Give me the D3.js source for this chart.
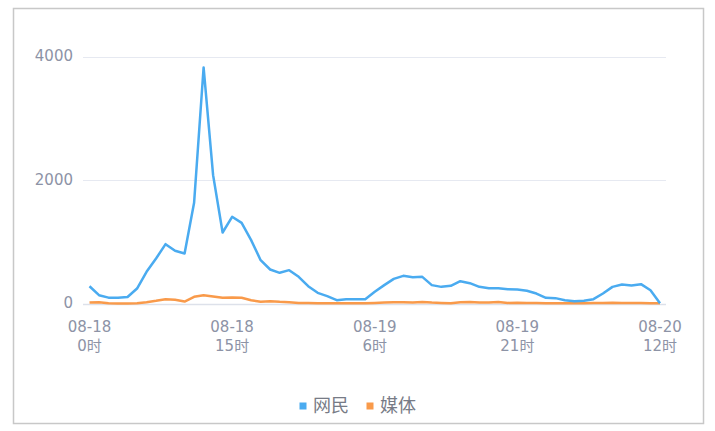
<!DOCTYPE html>
<html><head><meta charset="utf-8">
<script src="https://cdn.jsdelivr.net/npm/d3@7/dist/d3.min.js"></script>
<style>
html,body{margin:0;padding:0;background:#fff;}
svg text{font-family:"DejaVu Sans","Noto Sans CJK SC",sans-serif;}
svg text.cjk{font-family:"Noto Sans CJK SC","Noto Sans",sans-serif;}
</style></head>
<body>
<svg id="c" width="715" height="431"></svg>
<script>
// hourly, from 08-18 0时 to 08-20 12时 (61 points)
const hours = d3.range(0, 61);
const netizen = [280,135,95,95,105,243,514,730,963,855,811,1634,3830,2083,1152,1407,1309,1028,703,552,498,541,433,281,173,119,54,70,70,70,189,298,400,449,427,433,298,270,287,362,330,270,249,249,233,227,206,162,92,87,54,38,43,70,162,270,308,292,314,216,5];
const media = [16,22,5,0,0,5,22,43,70,60,32,108,135,113,92,97,92,54,27,38,27,20,10,10,5,5,5,5,5,5,10,15,20,20,15,25,15,10,5,20,25,15,15,25,10,12,10,8,5,5,5,5,5,8,10,12,10,10,8,5,5];
const yTicks = [0,2000,4000];
const xTickHours = [0,15,30,45,60];
const xTickLabels = [["08-18","0时"],["08-18","15时"],["08-19","6时"],["08-19","21时"],["08-20","12时"]];
const seriesNames = ["网民","媒体"];
const colors = ["#4aabf0","#f99a4a"];

const svg = d3.select("#c");
svg.append("rect").attr("x",13.5).attr("y",8.5).attr("width",690).attr("height",415)
  .attr("fill","none").attr("stroke","#c8c8c8").attr("stroke-width",1.5);

const x = d3.scaleLinear().domain([0,60]).range([89.5,660]);
const y = d3.scaleLinear().domain([0,4000]).range([303.5,57]);
const gridX0 = 83, gridX1 = 666;

// grid
svg.append("g").selectAll("line").data(yTicks).join("line")
  .attr("x1",gridX0).attr("x2",gridX1)
  .attr("y1",d=>Math.round(y(d))+0.5).attr("y2",d=>Math.round(y(d))+0.5)
  .attr("stroke",d=>d===0?"#dde1ea":"#e6e9f1").attr("stroke-width",d=>d===0?1.5:1.2);

// y labels
svg.append("g").selectAll("text").data(yTicks).join("text")
  .attr("x",73).attr("y",d=>y(d)-1).attr("dy","0.36em")
  .attr("text-anchor","end").attr("fill","#8d93a6").attr("font-size",15)
  .text(d=>d);

// x labels
const xl = svg.append("g").selectAll("g").data(xTickHours).join("g")
  .attr("transform",d=>`translate(${x(d)},0)`);
xl.append("text").attr("y",332).attr("text-anchor","middle").attr("fill","#8d93a6").attr("font-size",15)
  .text((d,i)=>xTickLabels[i][0]);
xl.append("text").attr("y",350.5).attr("text-anchor","middle").attr("fill","#8d93a6").attr("font-size",15)
  .text((d,i)=>xTickLabels[i][1]);

const line = d3.line().x((d,i)=>x(hours[i])).y(d=>y(d));
[media, netizen].forEach((s,k)=>{
  const ci = k===0?1:0;
  svg.append("path").datum(s).attr("d",line).attr("fill","none")
    .attr("stroke",colors[ci]).attr("stroke-width",2.5).attr("stroke-linejoin","round");
});

// legend
const lg = svg.append("g");
const legendX = [299.5, 366.5];
seriesNames.forEach((n,i)=>{
  lg.append("rect").attr("x",legendX[i]).attr("y",402.5).attr("width",7).attr("height",7).attr("fill",colors[i]);
  lg.append("text").attr("class","cjk").attr("x",legendX[i]+13.5).attr("y",412).attr("font-size",18).attr("fill","#777b86").text(n);
});
</script>
</body></html>
